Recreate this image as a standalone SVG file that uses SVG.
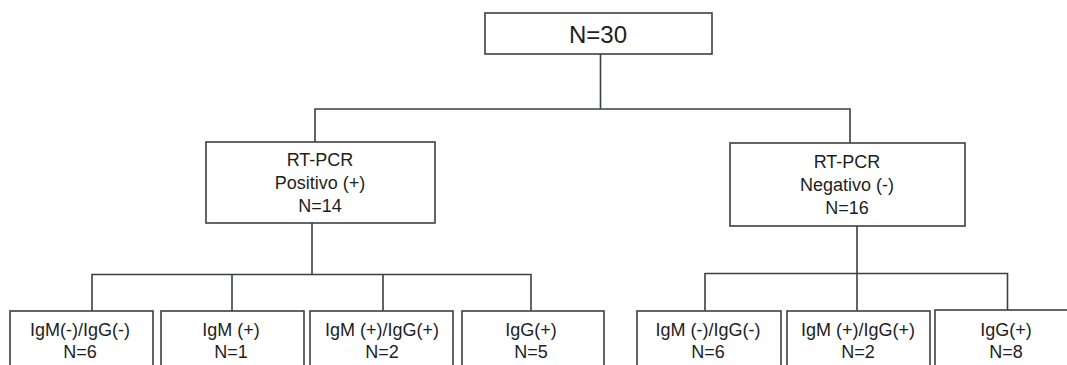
<svg xmlns="http://www.w3.org/2000/svg" width="1067" height="365" viewBox="0 0 1067 365">
  <style>
    .box { fill: #ffffff; stroke: #3c3f46; stroke-width: 1.6; }
    .link { fill: none; stroke: #3c3f46; stroke-width: 1.6; }
    text { font-family: "Liberation Sans", Arial, sans-serif; font-size: 18px; fill: #1e1e1e; text-anchor: middle; }
    .big { font-size: 24px; }
  </style>
  <rect width="1067" height="365" fill="#ffffff"/>

  <!-- connectors -->
  <g id="connectors">
    <path class="link" d="M600.5 54 V109 M315 142 V109 H850 V143"/>
    <path class="link" d="M312 223 V274.5 M92 311 V274.5 H531 V311 M232 274.5 V311 M383 274.5 V311"/>
    <path class="link" d="M857 226 V273.5 M705 311 V273.5 H1007.5 V310 M857 273.5 V311"/>
  </g>

  <!-- root -->
  <g id="total">
    <rect class="box" x="485" y="13" width="227" height="41"/>
    <text class="big" x="598" y="43">N=30</text>
  </g>

  <!-- RT-PCR branches -->
  <g id="pcr-positive">
    <rect class="box" x="206" y="142" width="229" height="81"/>
    <text x="320" y="166">RT-PCR</text>
    <text x="320" y="189">Positivo (+)</text>
    <text x="320" y="212">N=14</text>
  </g>
  <g id="pcr-negative">
    <rect class="box" x="730" y="143" width="235" height="83"/>
    <text x="847" y="168">RT-PCR</text>
    <text x="847" y="191">Negativo (-)</text>
    <text x="847" y="214">N=16</text>
  </g>

  <!-- serology, positive branch -->
  <g id="pos-igm-neg-igg-neg">
    <rect class="box" x="10" y="311" width="143" height="70"/>
    <text x="80" y="336">IgM(-)/IgG(-)</text>
    <text x="80" y="358">N=6</text>
  </g>
  <g id="pos-igm-pos">
    <rect class="box" x="161" y="311" width="143" height="70"/>
    <text x="231" y="336">IgM (+)</text>
    <text x="231" y="358">N=1</text>
  </g>
  <g id="pos-igm-pos-igg-pos">
    <rect class="box" x="310" y="311" width="143" height="70"/>
    <text x="382" y="336">IgM (+)/IgG(+)</text>
    <text x="382" y="358">N=2</text>
  </g>
  <g id="pos-igg-pos">
    <rect class="box" x="462" y="311" width="142" height="70"/>
    <text x="531" y="336">IgG(+)</text>
    <text x="531" y="358">N=5</text>
  </g>

  <!-- serology, negative branch -->
  <g id="neg-igm-neg-igg-neg">
    <rect class="box" x="637" y="311" width="144" height="70"/>
    <text x="708" y="336">IgM (-)/IgG(-)</text>
    <text x="708" y="358">N=6</text>
  </g>
  <g id="neg-igm-pos-igg-pos">
    <rect class="box" x="787" y="311" width="143" height="70"/>
    <text x="858" y="336">IgM (+)/IgG(+)</text>
    <text x="858" y="358">N=2</text>
  </g>
  <g id="neg-igg-pos">
    <rect class="box" x="935" y="310" width="140" height="71"/>
    <text x="1006" y="336">IgG(+)</text>
    <text x="1006" y="358">N=8</text>
  </g>
</svg>
